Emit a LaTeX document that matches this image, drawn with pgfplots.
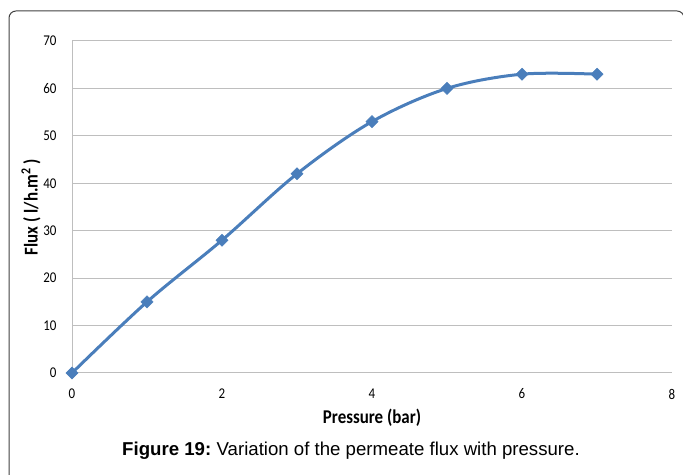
\documentclass[border=0pt]{standalone}
\usepackage{pgfplots}
\pgfplotsset{compat=1.18}
\usepackage{fontspec}
\setmainfont{Carlito}
\newfontfamily\arialf{Liberation Sans}
\definecolor{xlblue}{HTML}{4A7EBB}
\definecolor{gridc}{HTML}{BEBEBE}
\begin{document}
\begin{tikzpicture}[x=1bp,y=1bp]
\useasboundingbox (0,0) rectangle (683,475);
\draw[color=black!75, line width=1bp, rounded corners=7bp] (9,-10) -- (9,464) -- (684,464) -- (684,440);
\begin{axis}[
  at={(72bp,102bp)}, anchor=origin,
  scale only axis, width=600bp, height=332bp,
  xmin=0, xmax=8, ymin=0, ymax=70,
  xtick={0,2,4,6,8}, ytick={0,10,...,70},
  axis x line*=bottom, axis y line*=left,
  axis line style={gridc, line width=1bp, -},
  ymajorgrids, major grid style={gridc, line width=1bp},
  major tick length=0pt,
  tick label style={font=\fontsize{13}{15}\selectfont, text=black},
  /pgf/number format/assume math mode=true,
  xticklabel={\scalebox{1}[1.15]{\pgfmathprintnumber{\tick}}},
  yticklabel={\scalebox{1}[1.15]{\pgfmathprintnumber{\tick}}},
  xticklabel style={anchor=center, yshift=-21bp},
  yticklabel style={anchor=east, xshift=-12bp},
  xlabel={\scalebox{1}[1.15]{\textbf{Pressure (bar)}}},
  ylabel={\scalebox{1}[1.15]{\textbf{Flux ( l/h.m\textsuperscript{2} )}}},
  label style={font=\fontsize{17}{19}\selectfont},
  xlabel style={at={(axis description cs:0.5,0)}, anchor=center, yshift=-45bp},
  ylabel style={at={(axis description cs:0,0.5)}, anchor=center, rotate=0, yshift=41bp},
  clip=false,
]
\addplot[xlblue, line width=3bp, smooth, tension=0.55, mark=square*, mark size=4.3bp, mark options={solid, rotate=45, fill=xlblue, line width=0.5bp}]
coordinates {(0,0) (1,15) (2,28) (3,42) (4,53) (5,60) (6,63) (7,63)};
\end{axis}
\node[font=\arialf\fontsize{18.7}{21}\selectfont, anchor=center] at (351,24) {\textbf{Figure 19:}\hspace{-1.5bp} Variation of the permeate flux with pressure.};
\end{tikzpicture}
\end{document}
